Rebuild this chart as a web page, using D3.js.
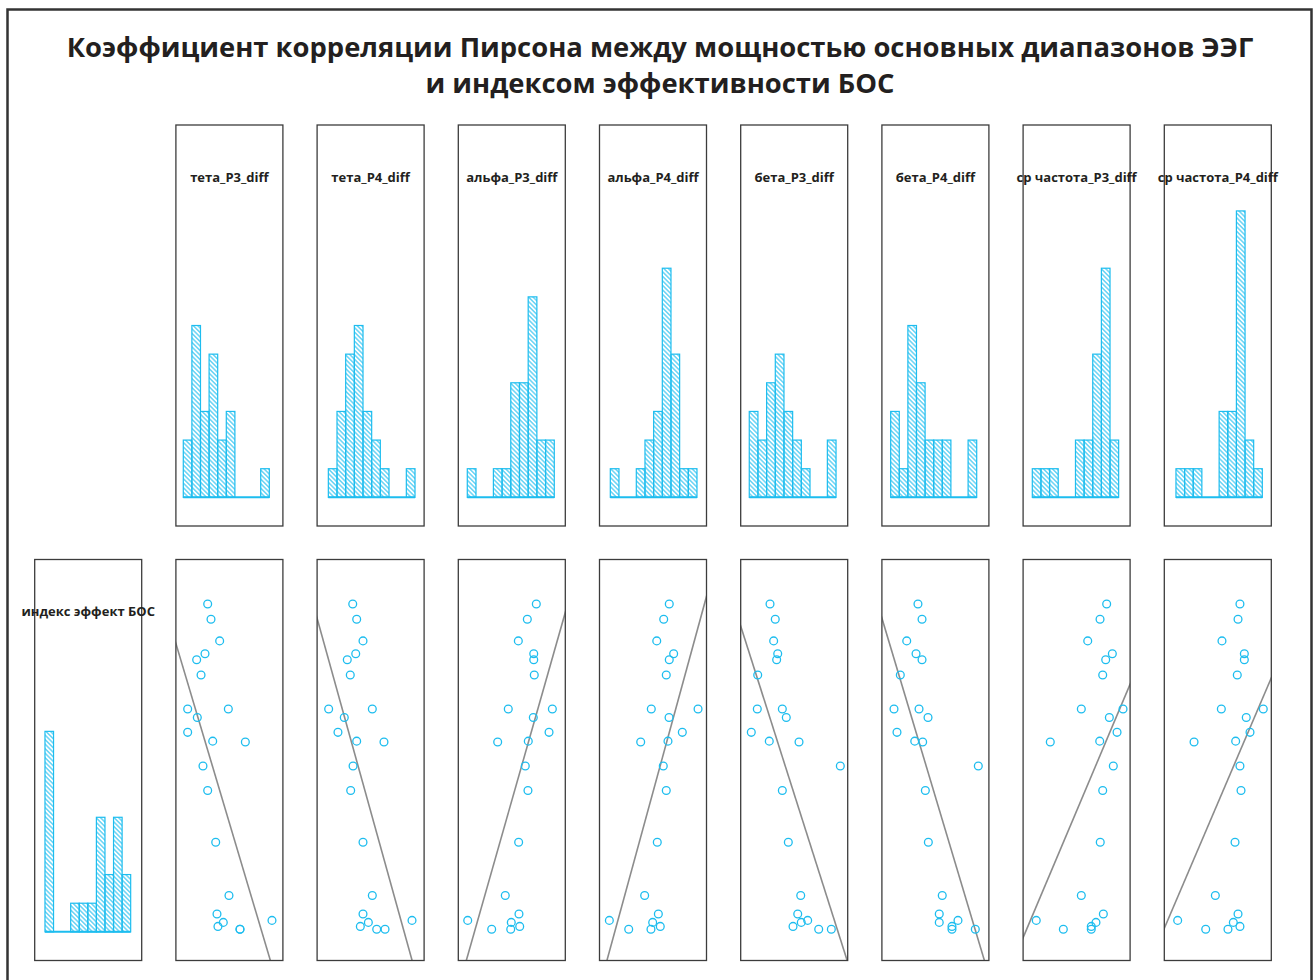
<!DOCTYPE html>
<html>
<head>
<meta charset="utf-8">
<script src="https://cdn.jsdelivr.net/npm/d3@7"></script>
<style>
  body { margin: 0; background: #fff; }
  svg { display: block; }
  text { font-family: "Open Sans", "Noto Sans", sans-serif; font-weight: 700; fill: #231f20; }
</style>
</head>
<body>
<script>
// ---- Text ----
const titleLines = [
  "Коэффициент корреляции Пирсона между мощностью основных диапазонов ЭЭГ",
  "и индексом эффективности БОС"
];
const varNames = ["тета_P3_diff", "тета_P4_diff", "альфа_P3_diff", "альфа_P4_diff",
                  "бета_P3_diff", "бета_P4_diff", "ср частота_P3_diff", "ср частота_P4_diff"];
const indexName = "индекс эффект БОС";

// ---- Histogram counts (10 equal bins per variable) ----
const thetaP3Counts = [2, 6, 3, 5, 2, 3, 0, 0, 0, 1];
const thetaP4Counts = [1, 3, 5, 6, 3, 2, 1, 0, 0, 1];
const alphaP3Counts = [1, 0, 0, 1, 1, 4, 4, 7, 2, 2];
const alphaP4Counts = [1, 0, 0, 1, 2, 3, 8, 5, 1, 1];
const betaP3Counts  = [3, 2, 4, 5, 3, 2, 1, 0, 0, 2];
const betaP4Counts  = [3, 1, 6, 4, 2, 2, 2, 0, 0, 2];
const freqP3Counts  = [1, 1, 1, 0, 0, 2, 2, 5, 8, 2];
const freqP4Counts  = [1, 1, 1, 0, 0, 3, 3, 10, 2, 1];
const indexCounts   = [7, 0, 0, 1, 1, 1, 4, 2, 4, 2];

// bin span [first edge, last edge] of each histogram, in scaled units (0-100)
const binSpans = [[6.9, 87.3], [10.5, 91.5], [8.4, 89.7], [10.1, 91.1],
                  [8.0, 89.1], [8.2, 88.6], [8.6, 89.3], [10.9, 91.6]];
const indexBinSpan = [9.6, 89.7];

// ---- Per-subject values (scaled 0-100), same subject order in every array ----
const indexValues = [88.9, 85.1, 79.7, 76.5, 75.0, 71.2, 62.7, 62.7, 60.6, 56.9, 54.7,
                     54.5, 48.5, 42.4, 29.5, 16.2, 11.6, 10.0, 9.5, 8.5, 7.8, 7.8];
const thetaP3 = [29.7, 32.8, 40.9, 27.2, 19.4, 23.5, 11.0, 49.0, 20.0, 11.0, 34.4,
                 64.9, 25.3, 29.7, 37.2, 49.6, 38.4, 89.8, 44.3, 39.3, 59.9, 59.9];
const thetaP4 = [33.3, 37.0, 42.9, 36.1, 28.2, 31.0, 10.8, 51.6, 25.4, 19.5, 37.0,
                 62.5, 33.6, 31.4, 42.9, 51.6, 42.9, 88.7, 47.9, 40.4, 55.7, 63.5];
const alphaP3 = [72.9, 64.5, 56.1, 70.5, 70.5, 71.0, 46.7, 87.9, 70.1, 84.8, 65.4,
                 36.8, 62.6, 65.1, 56.4, 43.9, 56.7, 8.8, 49.5, 57.4, 31.2, 49.0];
const alphaP4 = [65.2, 60.0, 53.5, 69.3, 65.2, 62.4, 48.4, 92.1, 65.0, 77.4, 64.0,
                 38.5, 59.6, 62.4, 54.0, 42.2, 55.0, 9.2, 49.7, 56.8, 27.3, 48.1];
const betaP3  = [27.4, 32.3, 30.8, 34.6, 33.6, 15.9, 15.5, 38.9, 42.6, 9.9, 26.7,
                 54.5, 93.1, 38.9, 44.5, 56.1, 53.3, 62.6, 56.6, 48.9, 72.9, 84.7];
const betaP4  = [33.7, 37.5, 23.2, 31.9, 37.5, 17.2, 11.3, 34.7, 43.1, 14.1, 30.7,
                 38.1, 90.1, 40.6, 43.4, 56.4, 53.6, 71.1, 53.6, 65.5, 65.5, 87.3];
const freqP3  = [78.1, 71.9, 60.4, 83.4, 77.2, 74.4, 54.4, 93.4, 80.6, 87.8, 71.6,
                 25.4, 84.3, 74.4, 72.1, 54.4, 75.0, 12.3, 68.1, 63.7, 37.6, 63.7];
const freqP4  = [70.7, 68.9, 53.9, 74.8, 74.8, 68.2, 53.3, 92.5, 76.6, 80.1, 66.7,
                 27.8, 70.7, 71.7, 66.1, 47.7, 68.9, 12.5, 64.5, 70.7, 59.5, 38.7];

// ---- Fitted lines: variable = intercept + slope * index ----
const fitIntercept = [88.3, 88.8, 7.48, 6.94, 99.5, 95.8, -9.04, -12.9];
const fitSlope     = [-1.117, -1.041, 1.066, 1.025, -1.193, -1.122, 1.583, 1.602];

const varCounts = [thetaP3Counts, thetaP4Counts, alphaP3Counts, alphaP4Counts,
                   betaP3Counts, betaP4Counts, freqP3Counts, freqP4Counts];
const varValues = [thetaP3, thetaP4, alphaP3, alphaP4, betaP3, betaP4, freqP3, freqP4];

// ---- Layout ----
const W = 1315, H = 980;
const colX0 = 34.7, colStep = 141.2;
const panelW = 107, panelH = 401;
const topRowY = 125, bottomRowY = 559.5;
const cyan = "#1dbdef";
const border = "#3c3c3c";

const svg = d3.select("body").append("svg").attr("width", W).attr("height", H);

// diagonal hatch fill for histogram bars
const defs = svg.append("defs");
defs.append("pattern")
  .attr("id", "hatch")
  .attr("patternUnits", "userSpaceOnUse")
  .attr("width", 3.2).attr("height", 3.2)
  .attr("patternTransform", "rotate(-45)")
  .append("line")
  .attr("x1", 1.6).attr("y1", 0).attr("x2", 1.6).attr("y2", 3.2)
  .attr("stroke", cyan).attr("stroke-width", 1);

// outer frame
svg.append("rect")
  .attr("x", 7.5).attr("y", 9.5)
  .attr("width", 1304).attr("height", 1000)
  .attr("fill", "none").attr("stroke", "#333").attr("stroke-width", 2.5);

// title
svg.append("g").selectAll("text").data(titleLines).join("text")
  .attr("x", 660)
  .attr("y", (d, i) => 57 + i * 36)
  .attr("text-anchor", "middle")
  .style("font-size", "27.4px")
  .text(d => d);

const xPanel = d3.scaleLinear().domain([0, 100]).range([0, panelW]);
const yCount = d3.scaleLinear().domain([-1, 13]).range([panelH, 0]);
const yIndex = d3.scaleLinear().domain([0, 100]).range([panelH, 0]);

function panelGroup(col, y) {
  return svg.append("g").attr("transform", `translate(${colX0 + col * colStep},${y})`);
}

function drawHistogram(g, counts, span, label) {
  const step = (span[1] - span[0]) / counts.length;
  const bins = counts.map((c, j) => ({ c, x0: span[0] + j * step, x1: span[0] + (j + 1) * step }));
  g.append("g").selectAll("rect").data(bins.filter(b => b.c > 0)).join("rect")
    .attr("x", b => xPanel(b.x0))
    .attr("y", b => yCount(b.c))
    .attr("width", b => xPanel(b.x1) - xPanel(b.x0))
    .attr("height", b => yCount(0) - yCount(b.c))
    .attr("fill", "url(#hatch)")
    .attr("stroke", cyan).attr("stroke-width", 1.2);
  g.append("line")
    .attr("x1", xPanel(span[0])).attr("x2", xPanel(span[1]))
    .attr("y1", yCount(0)).attr("y2", yCount(0))
    .attr("stroke", cyan).attr("stroke-width", 2);
  g.append("text")
    .attr("x", panelW / 2).attr("y", 56.5)
    .attr("text-anchor", "middle")
    .style("font-size", "13px")
    .text(label);
}

function drawBorder(g) {
  g.append("rect")
    .attr("x", 0).attr("y", 0).attr("width", panelW).attr("height", panelH)
    .attr("fill", "none").attr("stroke", border).attr("stroke-width", 1.3);
}

// top row: distribution of each EEG variable
varNames.forEach((name, i) => {
  const g = panelGroup(i + 1, topRowY);
  drawBorder(g);
  drawHistogram(g, varCounts[i], binSpans[i], name);
});

// bottom row, first column: distribution of the feedback index
{
  const g = panelGroup(0, bottomRowY);
  drawBorder(g);
  drawHistogram(g, indexCounts, indexBinSpan, indexName);
}

// bottom row: index vs each EEG variable, with fitted line
varNames.forEach((name, i) => {
  const g = panelGroup(i + 1, bottomRowY);
  const clipId = "clip" + i;
  g.append("clipPath").attr("id", clipId)
    .append("rect").attr("width", panelW).attr("height", panelH);

  const fit = [-5, 105].map(v => ({ idx: v, val: fitIntercept[i] + fitSlope[i] * v }));
  g.append("path")
    .attr("clip-path", `url(#${clipId})`)
    .attr("d", d3.line().x(d => xPanel(d.val)).y(d => yIndex(d.idx))(fit))
    .attr("fill", "none").attr("stroke", "#8c8c8c").attr("stroke-width", 1.6);

  const pts = indexValues.map((idx, k) => ({ idx, val: varValues[i][k] }));
  g.append("g").selectAll("circle").data(pts).join("circle")
    .attr("cx", d => xPanel(d.val))
    .attr("cy", d => yIndex(d.idx))
    .attr("r", 3.9)
    .attr("fill", "none").attr("stroke", cyan).attr("stroke-width", 1.3);

  drawBorder(g);
});
</script>
</body>
</html>
